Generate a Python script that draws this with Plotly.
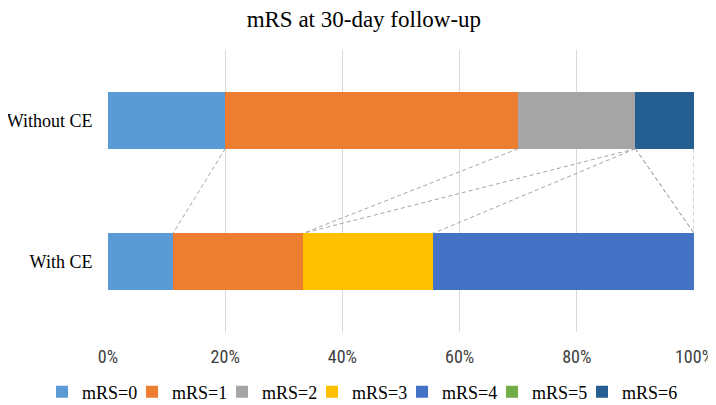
import plotly.graph_objects as go

groups = ["With CE", "Without CE"]
series = ["mRS=0", "mRS=1", "mRS=2", "mRS=3", "mRS=4", "mRS=5", "mRS=6"]
with_ce = [11.1, 22.2, 0, 22.2, 44.5, 0, 0]
without_ce = [20, 50, 20, 0, 0, 0, 10]
colors = ["#5B9BD5", "#ED7D31", "#A5A5A5", "#FFC000", "#4472C4", "#70AD47", "#255E91"]
x_ticks = [0, 20, 40, 60, 80, 100]
x_tick_labels = ["0%", "20%", "40%", "60%", "80%", "100%"]

BAR_W = 0.4
ypos = [0, 1]

fig = go.Figure()
for i, name in enumerate(series):
    fig.add_trace(go.Bar(
        y=ypos, x=[with_ce[i], without_ce[i]], name=name, orientation="h",
        width=BAR_W, marker=dict(color=colors[i], line=dict(width=0)),
        legendwidth=(70 if i == len(series) - 1 else None),
    ))

# series lines between cumulative boundaries
cw, cwo = 0, 0
for i in range(len(series)):
    cw += with_ce[i]
    cwo += without_ce[i]
    fig.add_trace(go.Scatter(
        x=[cwo, cw], y=[ypos[1] - BAR_W / 2, ypos[0] + BAR_W / 2],
        mode="lines", line=dict(color="#A5A5A5", width=1, dash="4px,3px"),
        showlegend=False, hoverinfo="skip",
    ))

serif = "Liberation Serif, Times New Roman, serif"
fig.update_layout(
    barmode="stack",
    width=716, height=405,
    margin=dict(l=100, r=30, t=42, b=81, autoexpand=False),
    paper_bgcolor="white", plot_bgcolor="white",
    title=dict(text="mRS at 30-day follow-up", x=0.497, xanchor="center",
               y=0.972, yanchor="middle", yref="container",
               font=dict(family=serif, size=23, color="#000000")),
    xaxis=dict(range=[0, 100], tickvals=x_ticks, ticktext=x_tick_labels, automargin=False,
               showgrid=True, gridcolor="#D9D9D9", gridwidth=1, zeroline=False,
               ticks="outside", ticklen=8, tickcolor="rgba(0,0,0,0)",
               tickfont=dict(family="Liberation Sans Narrow, Roboto Condensed, Arial Narrow, sans-serif",
                             size=18, color="#404040")),
    yaxis=dict(range=[-0.5, 1.5], tickvals=ypos, ticktext=groups, automargin=False,
               showgrid=False, zeroline=False,
               ticks="outside", ticklen=11, tickcolor="rgba(0,0,0,0)",
               tickfont=dict(family=serif, size=18, color="#000000")),
    legend=dict(orientation="h", x=-0.1126, xanchor="left",
                y=-0.213, yanchor="middle",
                font=dict(family=serif, size=18, color="#000000"),
                itemwidth=30, entrywidth=45, entrywidthmode="pixels",
                traceorder="normal", bgcolor="rgba(0,0,0,0)"),
    showlegend=True,
)

fig.write_html("out.html")
